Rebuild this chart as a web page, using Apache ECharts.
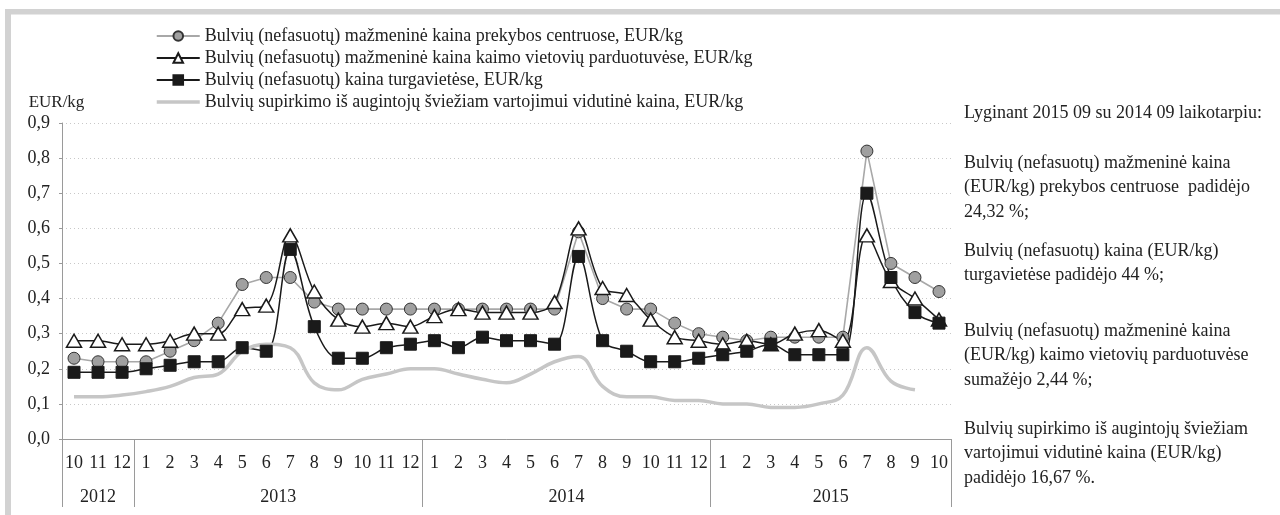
<!DOCTYPE html>
<html>
<head>
<meta charset="utf-8">
<script src="https://cdn.jsdelivr.net/npm/echarts@6/dist/echarts.min.js"></script>
<style>
    html, body { margin: 0; padding: 0; background: #fff; }
    #chart { width: 1280px; height: 515px; }
</style>
</head>
<body>
<div id="chart"></div>
<script>
// months shown on the x axis, 2012-10 ... 2015-10
const months = ['10', '11', '12',
    '1', '2', '3', '4', '5', '6', '7', '8', '9', '10', '11', '12',
    '1', '2', '3', '4', '5', '6', '7', '8', '9', '10', '11', '12',
    '1', '2', '3', '4', '5', '6', '7', '8', '9', '10'];
const years = ['2012', '2013', '2014', '2015'];
const yearMonths = [3, 12, 12, 10];

const seriesNames = [
    'Bulvių (nefasuotų) mažmeninė kaina prekybos centruose, EUR/kg',
    'Bulvių (nefasuotų) mažmeninė kaina kaimo vietovių parduotuvėse, EUR/kg',
    'Bulvių (nefasuotų) kaina turgavietėse, EUR/kg',
    'Bulvių supirkimo iš augintojų šviežiam vartojimui vidutinė kaina, EUR/kg'
];

const prekybosCentrai = [0.23, 0.22, 0.22,
    0.22, 0.25, 0.28, 0.33, 0.44, 0.46, 0.46, 0.39, 0.37, 0.37, 0.37, 0.37,
    0.37, 0.37, 0.37, 0.37, 0.37, 0.37, 0.59, 0.40, 0.37, 0.37, 0.33, 0.30,
    0.29, 0.28, 0.29, 0.29, 0.29, 0.29, 0.82, 0.50, 0.46, 0.42];
const kaimoParduotuves = [0.28, 0.28, 0.27,
    0.27, 0.28, 0.30, 0.30, 0.37, 0.38, 0.58, 0.42, 0.34, 0.32, 0.33, 0.32,
    0.35, 0.37, 0.36, 0.36, 0.36, 0.39, 0.60, 0.43, 0.41, 0.34, 0.29, 0.28,
    0.27, 0.28, 0.27, 0.30, 0.31, 0.28, 0.58, 0.45, 0.40, 0.34];
const turgavietes = [0.19, 0.19, 0.19,
    0.20, 0.21, 0.22, 0.22, 0.26, 0.25, 0.54, 0.32, 0.23, 0.23, 0.26, 0.27,
    0.28, 0.26, 0.29, 0.28, 0.28, 0.27, 0.52, 0.28, 0.25, 0.22, 0.22, 0.23,
    0.24, 0.25, 0.27, 0.24, 0.24, 0.24, 0.70, 0.46, 0.36, 0.33];
const supirkimas = [0.12, 0.12, 0.125,
    0.135, 0.15, 0.175, 0.185, 0.25, 0.27, 0.26, 0.16, 0.14, 0.17, 0.185, 0.20,
    0.20, 0.185, 0.17, 0.16, 0.185, 0.22, 0.235, 0.15, 0.12, 0.12, 0.11, 0.11,
    0.10, 0.10, 0.09, 0.09, 0.10, 0.125, 0.26, 0.165, 0.14, null];

const titleText = 'Bulvių mažmeninės kainos prekybos vietose ir supirkimo kaina, EUR/kg';
const notes = [
    'Lyginant 2015 09 su 2014 09 laikotarpiu:',
    'Bulvių (nefasuotų) mažmeninė kaina\n(EUR/kg) prekybos centruose  padidėjo\n24,32 %;',
    'Bulvių (nefasuotų) kaina (EUR/kg)\nturgavietėse padidėjo 44 %;',
    'Bulvių (nefasuotų) mažmeninė kaina\n(EUR/kg) kaimo vietovių parduotuvėse\nsumažėjo 2,44 %;',
    'Bulvių supirkimo iš augintojų šviežiam\nvartojimui vidutinė kaina (EUR/kg)\npadidėjo 16,67 %.'
];
const notesTop = [100, 150, 238, 318, 416];

const font = "'Liberation Serif', 'Times New Roman', serif";

// year boundaries and label positions on the secondary axis
let yearBounds = [0];
let yearCenters = [];
yearMonths.forEach((n, i) => {
    let start = yearBounds[i];
    yearBounds.push(start + n);
    yearCenters.push(start + n / 2);
});

let graphic = [
    { type: 'rect', shape: { x: 5, y: 9, width: 1275, height: 5 }, style: { fill: '#d2d2d2' }, silent: true },
    { type: 'rect', shape: { x: 11, y: 14, width: 1269, height: 1 }, style: { fill: '#e8e8e8' }, silent: true },
    { type: 'rect', shape: { x: 5, y: 9, width: 6, height: 506 }, style: { fill: '#d2d2d2' }, silent: true },
    {
        // title sits above the page edge, only its lowest strokes show
        type: 'text', x: 620, y: -19, silent: true,
        style: { text: titleText, font: 'bold 18px ' + font, fill: '#111', align: 'center', verticalAlign: 'top' }
    }
];
notes.forEach((t, i) => {
    graphic.push({
        type: 'text', left: 964, top: notesTop[i] + 1, silent: true,
        style: { text: t, font: '18px ' + font, lineHeight: 24.4, fill: '#222' }
    });
});

const chart = echarts.init(document.getElementById('chart'), null, { renderer: 'canvas' });

chart.setOption({
    backgroundColor: '#fff',
    animation: false,
    textStyle: { fontFamily: font },
    graphic: graphic,
    legend: {
        orient: 'vertical',
        left: 150,
        top: 22,
        itemWidth: 43,
        itemHeight: 12,
        itemGap: 4,
        textStyle: { fontFamily: font, fontSize: 18, color: '#222' },
        data: [
            seriesNames[0],
            seriesNames[1],
            seriesNames[2],
            { name: seriesNames[3], itemStyle: { opacity: 0 }, lineStyle: { width: 3.5, color: '#c6c6c6' } }
        ]
    },
    grid: { left: 62, right: 329, top: 123, bottom: 76 },
    xAxis: [{
        type: 'category',
        data: months,
        boundaryGap: true,
        axisLine: { lineStyle: { color: '#9a9a9a', width: 1 } },
        axisTick: { interval: 0, length: 34, lineStyle: { color: '#9a9a9a' } },
        axisLabel: { interval: 0, fontSize: 18, color: '#222', margin: 15 }
    }, {
        type: 'value',
        position: 'bottom',
        min: 0,
        max: yearBounds[yearBounds.length - 1],
        axisLine: { show: false },
        splitLine: { show: false },
        axisTick: { show: true, customValues: yearBounds, length: 68, lineStyle: { color: '#9a9a9a' } },
        axisLabel: {
            customValues: yearCenters, fontSize: 18, color: '#222', margin: 49,
            formatter: v => years[yearCenters.indexOf(v)] || ''
        }
    }],
    yAxis: {
        type: 'value',
        min: 0,
        max: 0.9,
        interval: 0.1,
        name: 'EUR/kg',
        nameLocation: 'end',
        nameGap: 12,
        nameTextStyle: { fontSize: 17, color: '#222', padding: [0, 11, 0, 0] },
        axisLine: { show: true, lineStyle: { color: '#9a9a9a' } },
        axisTick: { show: true, length: 3, lineStyle: { color: '#9a9a9a' } },
        axisLabel: { fontSize: 18, color: '#222', margin: 12, formatter: v => v.toFixed(1).replace('.', ',') },
        splitLine: { lineStyle: { color: '#c8c8c8', type: [1, 3], width: 1 } }
    },
    series: [{
        name: seriesNames[0],
        type: 'line',
        data: prekybosCentrai,
        symbol: 'circle',
        symbolSize: 12,
        lineStyle: { color: '#a8a8a8', width: 1.6 },
        itemStyle: { color: '#a0a0a0', borderColor: '#333', borderWidth: 1 }
    }, {
        name: seriesNames[1],
        type: 'line',
        data: kaimoParduotuves,
        smooth: 0.35,
        symbol: 'triangle',
        symbolSize: [15, 13],
        lineStyle: { color: '#1a1a1a', width: 1.5 },
        itemStyle: { color: '#fff', borderColor: '#1a1a1a', borderWidth: 1.5 }
    }, {
        name: seriesNames[2],
        type: 'line',
        data: turgavietes,
        smooth: 0.35,
        symbol: 'rect',
        symbolSize: 12,
        lineStyle: { color: '#1a1a1a', width: 1.5 },
        itemStyle: { color: '#1a1a1a', borderColor: '#1a1a1a', borderWidth: 1 }
    }, {
        name: seriesNames[3],
        type: 'line',
        data: supirkimas,
        smooth: 0.4,
        symbol: 'none',
        lineStyle: { color: '#c6c6c6', width: 3.5 },
        itemStyle: { color: '#c6c6c6' }
    }]
});
</script>
</body>
</html>
